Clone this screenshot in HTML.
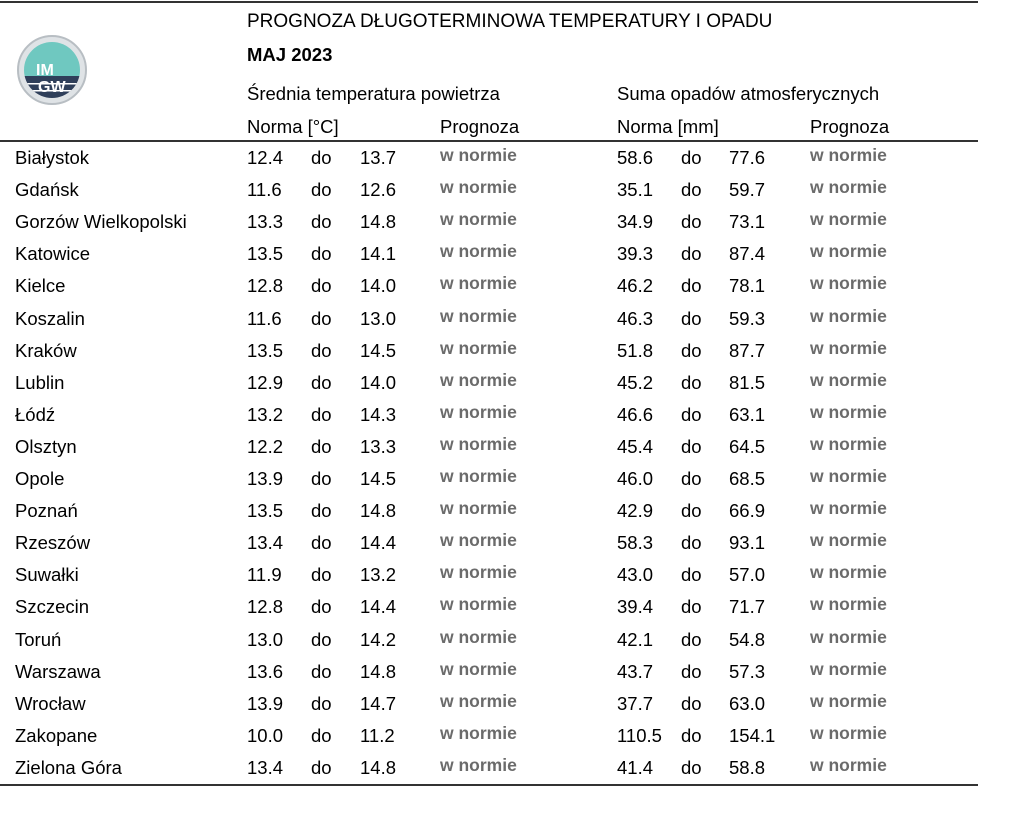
<!DOCTYPE html>
<html><head><meta charset="utf-8"><style>
body{margin:0;width:1024px;height:834px;background:#fff;position:relative;font-family:"Liberation Sans",sans-serif;font-size:18.5px;color:#000;overflow:hidden}
.a{position:absolute;white-space:nowrap;line-height:20px}
.g{color:#6b6b6b;font-weight:bold;font-size:17.5px}
.l{position:absolute;left:0;width:978px;height:1.5px;background:#333}
</style></head><body>
<div class="l" style="top:1px"></div>
<div class="l" style="top:140px"></div>
<div class="l" style="top:784px"></div>
<svg class="a" style="left:16px;top:34px" width="72" height="72" viewBox="0 0 72 72">
<circle cx="36" cy="36" r="34" fill="#dfe3e6" stroke="#b8bec3" stroke-width="2"/>
<clipPath id="c"><circle cx="36" cy="36" r="28"/></clipPath>
<g clip-path="url(#c)"><rect x="0" y="0" width="72" height="42" fill="#6fc8c0"/><rect x="0" y="42" width="72" height="40" fill="#2f3f5a"/>
<rect x="0" y="49" width="72" height="1.5" fill="#fff"/><rect x="0" y="56" width="72" height="1.5" fill="#fff"/></g>
<text x="20" y="41" font-family="Liberation Sans" font-weight="bold" font-size="16" fill="#fff">IM</text>
<text x="22" y="58" font-family="Liberation Sans" font-weight="bold" font-size="16" fill="#fff">GW</text>
</svg>
<div class="a" style="left:247px;top:12px;font-size:19px">PROGNOZA DŁUGOTERMINOWA TEMPERATURY I OPADU</div>
<div class="a" style="left:247px;top:45px;font-weight:bold">MAJ 2023</div>
<div class="a" style="left:247px;top:84px">Średnia temperatura powietrza</div>
<div class="a" style="left:617px;top:84px">Suma opadów atmosferycznych</div>
<div class="a" style="left:247px;top:117px">Norma [°C]</div>
<div class="a" style="left:440px;top:117px">Prognoza</div>
<div class="a" style="left:617px;top:117px">Norma [mm]</div>
<div class="a" style="left:810px;top:117px">Prognoza</div>
<div id="rows"></div>
<script>
var d=[["Białystok","12.4","13.7","58.6","77.6"],["Gdańsk","11.6","12.6","35.1","59.7"],["Gorzów Wielkopolski","13.3","14.8","34.9","73.1"],["Katowice","13.5","14.1","39.3","87.4"],["Kielce","12.8","14.0","46.2","78.1"],["Koszalin","11.6","13.0","46.3","59.3"],["Kraków","13.5","14.5","51.8","87.7"],["Lublin","12.9","14.0","45.2","81.5"],["Łódź","13.2","14.3","46.6","63.1"],["Olsztyn","12.2","13.3","45.4","64.5"],["Opole","13.9","14.5","46.0","68.5"],["Poznań","13.5","14.8","42.9","66.9"],["Rzeszów","13.4","14.4","58.3","93.1"],["Suwałki","11.9","13.2","43.0","57.0"],["Szczecin","12.8","14.4","39.4","71.7"],["Toruń","13.0","14.2","42.1","54.8"],["Warszawa","13.6","14.8","43.7","57.3"],["Wrocław","13.9","14.7","37.7","63.0"],["Zakopane","10.0","11.2","110.5","154.1"],["Zielona Góra","13.4","14.8","41.4","58.8"]];
var h="";d.forEach(function(r,i){var t=148+i*32.1;
h+='<div class="a" style="left:15px;top:'+t+'px">'+r[0]+'</div>'+
'<div class="a" style="left:247px;top:'+t+'px">'+r[1]+'</div>'+
'<div class="a" style="left:311px;top:'+t+'px">do</div>'+
'<div class="a" style="left:360px;top:'+t+'px">'+r[2]+'</div>'+
'<div class="a g" style="left:440px;top:'+(t-3)+'px">w normie</div>'+
'<div class="a" style="left:617px;top:'+t+'px">'+r[3]+'</div>'+
'<div class="a" style="left:681px;top:'+t+'px">do</div>'+
'<div class="a" style="left:729px;top:'+t+'px">'+r[4]+'</div>'+
'<div class="a g" style="left:810px;top:'+(t-3)+'px">w normie</div>';});
document.getElementById("rows").innerHTML=h;
</script>
</body></html>
